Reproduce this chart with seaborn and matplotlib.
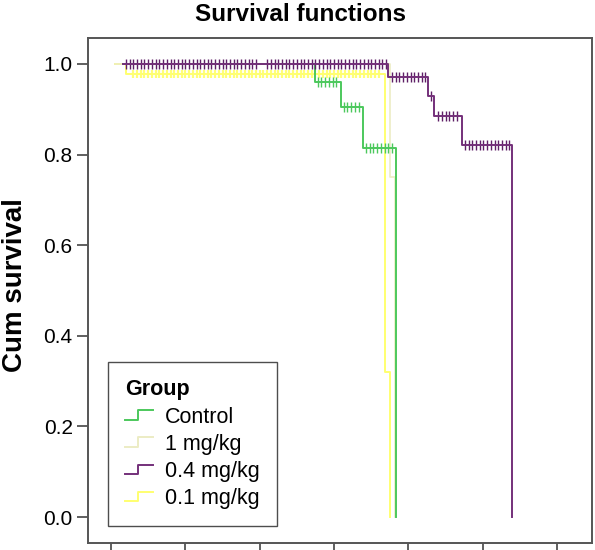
import numpy as np
import pandas as pd
import seaborn as sb
import matplotlib.pyplot as plt
from matplotlib.lines import Line2D
from matplotlib.legend_handler import HandlerBase

# step curves (time, cumulative survival)
grupe = ['Control', '1 mg/kg', '0.4 mg/kg', '0.1 mg/kg']
t_control = [1.6, 27.4, 30.9, 33.9, 38.4]
s_control = [1.0, 0.959, 0.904, 0.815, 0.0]
t_1mg = [0.5, 37.5, 38.2]
s_1mg = [1.0, 0.75, 0.0]
t_04mg = [1.6, 37.2, 42.6, 43.5, 47.2, 53.9]
s_04mg = [1.0, 0.972, 0.928, 0.884, 0.82, 0.0]
t_01mg = [0.5, 2.0, 36.8, 37.5]
s_01mg = [1.0, 0.977, 0.32, 0.0]

# censored times
c_control = [27.8, 28.3, 28.8, 29.3, 29.8, 30.3,
             31.3, 31.8, 32.3, 32.8, 33.3,
             34.3, 34.8, 35.3, 35.8, 36.3, 36.8, 37.3, 37.8]
c_04mg = [2.0, 2.5, 3.0, 3.5, 4.0, 4.5, 5.0, 5.5, 6.0, 6.5, 7.0, 7.5, 8.0,
          8.5, 9.0, 9.5, 10.0, 10.5, 11.0, 11.5, 12.0, 12.5, 13.0, 13.5,
          14.0, 14.5, 15.0, 15.5, 16.0, 16.5, 17.0, 17.5, 18.0, 18.5, 19.0,
          19.5, 21.0, 21.5, 22.0, 22.5, 23.0, 23.5, 24.0, 24.5, 25.0, 25.5,
          26.0, 26.5, 27.0, 27.5, 28.0, 28.5, 29.0, 29.5, 30.0, 30.5, 31.0,
          31.5, 32.0, 32.5, 33.0, 33.5, 34.0, 34.5, 35.0, 35.5, 36.0, 36.5,
          37.0,
          37.8, 38.3, 38.8, 39.3, 39.8, 40.3, 40.8, 41.3, 41.8, 42.3,
          43.0,
          44.0, 44.5, 45.0, 45.5, 46.0, 46.5,
          47.6, 48.1, 48.6, 49.1, 49.6, 50.1, 50.6, 51.1, 51.6, 52.1, 52.6,
          53.1, 53.6]
c_01mg = [3.0, 3.5, 4.0, 4.5, 5.0, 5.5, 6.0, 6.5, 7.0, 7.5, 8.0, 8.5, 9.0,
          9.5, 10.0, 10.5, 11.0, 11.5, 12.0, 12.5, 13.0, 13.5, 14.0, 14.5,
          15.0, 15.5, 16.0, 16.5, 17.0, 17.5, 18.0, 18.5, 19.0, 19.5, 20.0,
          20.5, 21.0, 21.5, 22.0, 22.5, 23.0, 23.5, 24.0, 24.5, 25.0, 25.5,
          26.0, 26.5, 27.0, 27.5, 28.0, 28.5, 29.0, 29.5, 30.0, 30.5, 31.0,
          31.5, 32.0, 32.5, 33.0, 33.5, 34.0, 34.5, 35.0, 35.5, 36.0]

culori = {'Control': '#4cc85c', '1 mg/kg': '#ececc4',
          '0.4 mg/kg': '#74307a', '0.1 mg/kg': '#ffff70'}
cul_cenz = {'Control': '#4cc85c', '0.4 mg/kg': '#5e1f66', '0.1 mg/kg': '#ffff78'}
grosimi = {'Control': 1.4, '1 mg/kg': 1.2, '0.4 mg/kg': 1.4, '0.1 mg/kg': 1.4}

curbe = {'Control': (t_control, s_control), '1 mg/kg': (t_1mg, s_1mg),
         '0.4 mg/kg': (t_04mg, s_04mg), '0.1 mg/kg': (t_01mg, s_01mg)}
cenzurate = {'Control': c_control, '0.4 mg/kg': c_04mg, '0.1 mg/kg': c_01mg}


def nivel(t, timpi, supr):
    idx = np.searchsorted(timpi, t, side='right') - 1
    return np.asarray(supr)[idx]


class HandlerTreapta(HandlerBase):
    def create_artists(self, legend, orig_handle, xd, yd, w, h, fontsize, trans):
        x = [xd, xd + w * 0.45, xd + w * 0.45, xd + w]
        y = [yd + h * 0.2, yd + h * 0.2, yd + h * 0.8, yd + h * 0.8]
        ln = Line2D(x, y, color=orig_handle.get_color(),
                    lw=orig_handle.get_linewidth(), transform=trans)
        return [ln]


plt.rcParams['font.family'] = ['Liberation Sans', 'DejaVu Sans']
fig = plt.figure(figsize=(5.95, 5.5), dpi=100)
ax = fig.add_axes([88 / 595, 7 / 550, 504 / 595, 505 / 550])

# draw in order: yellow first, purple on top
ordine = ['0.1 mg/kg', '1 mg/kg', 'Control', '0.4 mg/kg']
for g in ordine:
    timpi, supr = curbe[g]
    df = pd.DataFrame({'timp': timpi, 'supr': supr})
    if g in cenzurate:
        c = np.asarray(cenzurate[g])
        dc = pd.DataFrame({'timp': c, 'supr': nivel(c, timpi, supr)})
        sb.scatterplot(data=dc, x='timp', y='supr', marker='|',
                       s=30 if g == '0.1 mg/kg' else 55,
                       color=cul_cenz[g], linewidth=1.6 if g == '0.1 mg/kg' else 1.0,
                       ax=ax, legend=False, zorder=3)
    sb.lineplot(data=df, x='timp', y='supr', drawstyle='steps-post',
                color=culori[g], lw=grosimi[g], estimator=None, ax=ax,
                legend=False, zorder=3)

ax.set_xlim(-3.1, 64.7)
ax.set_ylim(-0.057, 1.057)
ax.set_xticks([0, 10, 20, 30, 40, 50, 60])
ax.set_xticklabels([])
ax.set_yticks([0.0, 0.2, 0.4, 0.6, 0.8, 1.0])
ax.set_yticklabels(['0.0', '0.2', '0.4', '0.6', '0.8', '1.0'], fontsize=15)
ax.tick_params(axis='both', direction='out', length=8, width=1.2,
               color='#444444', pad=3)
ax.set_xlabel('')
ax.set_ylabel('Cum survival', fontsize=20, fontweight='bold')
ax.yaxis.set_label_coords(-0.12, 0.51)
for sp in ax.spines.values():
    sp.set_color('#555555')
    sp.set_linewidth(1.4)

fig.suptitle('Survival functions', fontsize=17.5, fontweight='bold',
             x=0.505, y=0.995, va='top')

handles = [Line2D([], [], color=culori[g], lw=1.4) for g in grupe]
leg = ax.legend(handles, grupe, title='Group', loc='lower left',
                bbox_to_anchor=(0.04, 0.034), borderaxespad=0, fontsize=15.5,
                title_fontproperties={'weight': 'bold', 'size': 15.5},
                handler_map={Line2D: HandlerTreapta()}, handlelength=1.3,
                handletextpad=0.55, labelspacing=0.28, borderpad=0.8,
                fancybox=False, frameon=True, alignment='left')
leg.get_frame().set_edgecolor('#222222')
leg.get_frame().set_linewidth(1.0)

fig.savefig('out.png', dpi=100)
